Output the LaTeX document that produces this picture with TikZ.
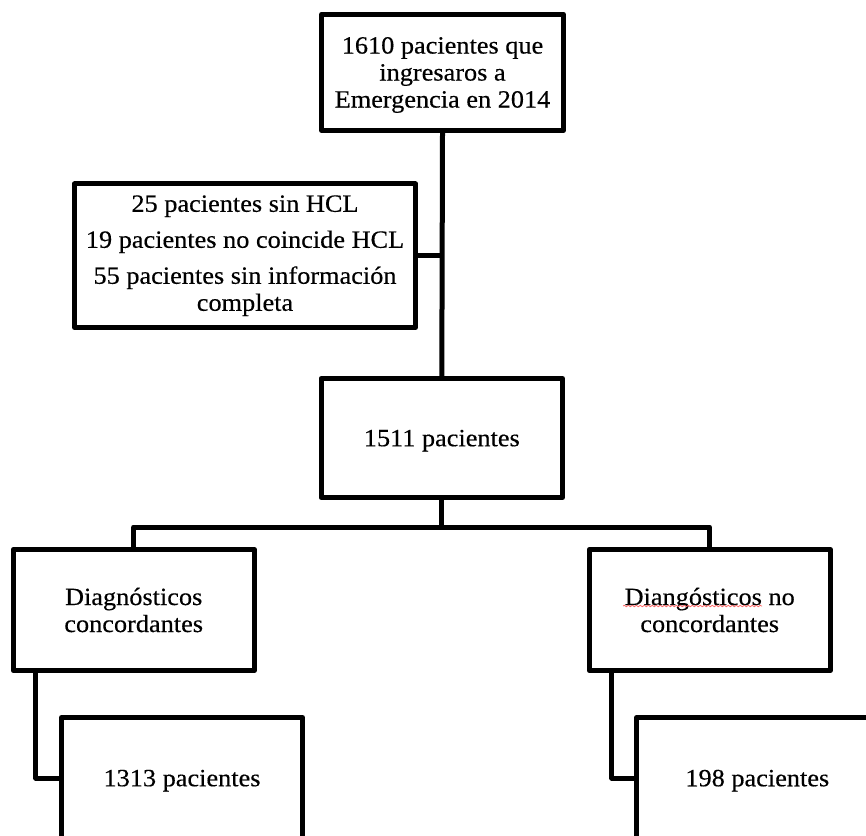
\documentclass[tikz,border=0pt]{standalone}
\usepackage{fontspec}
\setmainfont[FakeStretch=1.06,FakeBold=0.4]{Liberation Serif}
\usetikzlibrary{calc,decorations.pathmorphing}
\tikzset{
  box/.style={draw, line width=5pt, line join=round, rectangle, inner sep=0pt,
    align=center, font=\fontsize{24.8}{27}\selectfont},
  flat/.style={text depth=0pt},
  link/.style={draw, line width=5pt, line join=round},
}
\begin{document}
\begin{tikzpicture}[x=1pt,y=-1pt]
\useasboundingbox (0,0) rectangle (866,835);
\fill[white] (0,0) rectangle (866,835);
\clip (0,0) rectangle (866,835);
\node[box, flat, minimum width=241.5pt, minimum height=116.5pt] (top) at (442.5,72.3)
  {1610 pacientes que\\ingresaros a\\Emergencia en 2014};
\node[box, minimum width=341pt, minimum height=143.5pt] (excl) at (245,255.7)
  {25 pacientes sin HCL\\[9pt]19 pacientes no coincide HCL\\[9pt]55 pacientes sin información\\completa};
\node[box, flat, minimum width=241.5pt, minimum height=119pt] (mid) at (441.8,438)
  {1511 pacientes};
\node[box, minimum width=241pt, minimum height=121pt] (dl) at (133.7,610)
  {Diagnósticos\\concordantes};
\node[box, minimum width=241pt, minimum height=121pt] (dr) at (709.7,610)
  {Diangósticos no\\concordantes};
\node[box, flat, minimum width=241pt, minimum height=121pt] (bl) at (182,778)
  {1313 pacientes};
\node[box, flat, minimum width=241pt, minimum height=121pt] (br) at (757.3,778)
  {198 pacientes};
% connectors
\draw[link] (top.south) -- (mid.north);
\draw[link] (excl.east) -- (excl.east -| top.south);
\path (mid.south) ++(0,27) coordinate (hb);
\draw[link] (mid.south) -- (hb);
\draw[link] (dl.north) |- (hb) -| (dr.north);
\draw[link] ($(dl.south west)+(25,0)$) |- (bl.west);
\draw[link] ($(dr.south west)+(25,0)$) |- (br.west);
% spell-check underline
\draw[red!60, line width=0.8pt, decorate, decoration={snake, amplitude=0.7pt, segment length=4pt}]
  (623,606) -- (762,606);
\end{tikzpicture}
\end{document}
